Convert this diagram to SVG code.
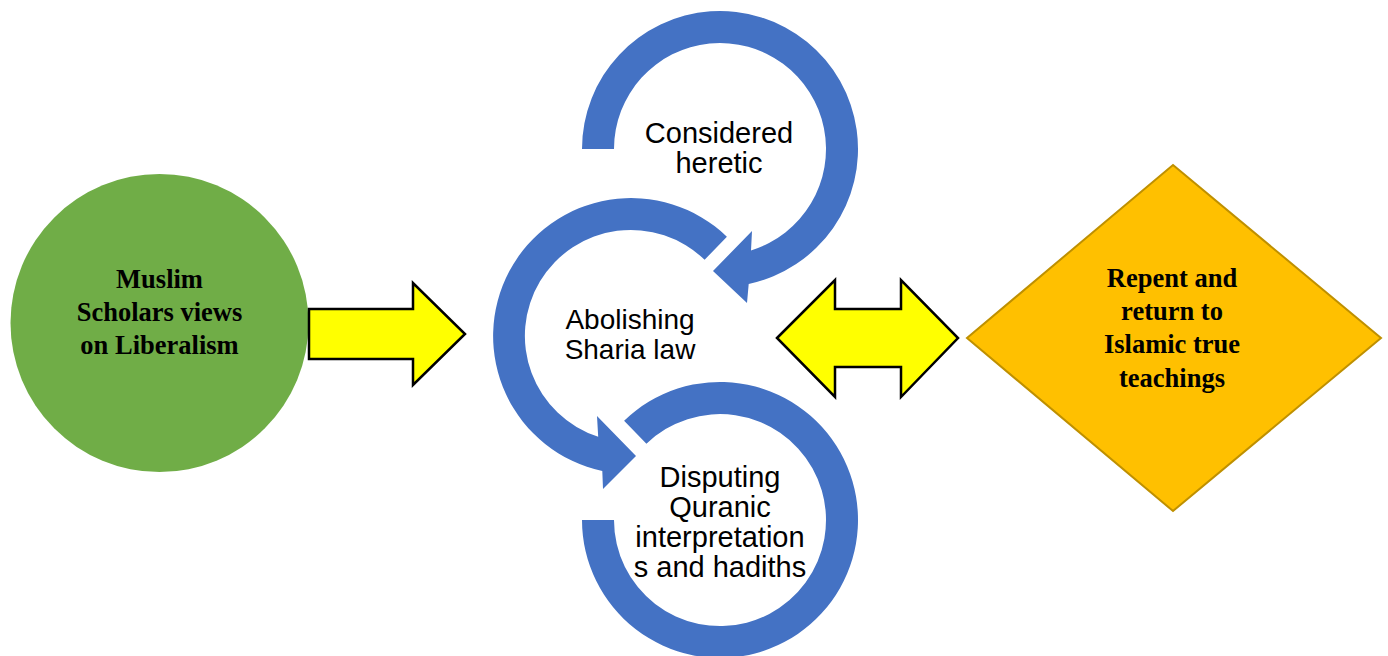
<svg xmlns="http://www.w3.org/2000/svg" width="1388" height="656" viewBox="0 0 1388 656">
<style>
.ring{fill:#4472C4;stroke:none}
.yarrow{fill:#FFFF00;stroke:#000000;stroke-width:2.5;stroke-linejoin:miter}
.sans{font-family:"Liberation Sans",Arial,sans-serif;font-size:29px;fill:#000000;text-anchor:middle}
.mid{font-size:28px}
.serifb{font-family:"Liberation Serif","Times New Roman",serif;font-size:26.5px;font-weight:bold;fill:#000000;text-anchor:middle}
</style>
<rect width="1388" height="656" fill="#FFFFFF"/>
<g id="node-muslim-scholars">
<circle cx="159.5" cy="323" r="149" fill="#70AD47"/>
<text class="serifb" x="159.5" y="288">Muslim</text>
<text class="serifb" x="159.5" y="321">Scholars views</text>
<text class="serifb" x="159.5" y="354">on Liberalism</text>
</g>
<g id="node-considered-heretic">
<path class="ring" d="M 614 149 A 106 106 0 1 1 751 250.4 L 752 231 L 713 271 L 747 303 L 748.7 284 A 138 138 0 1 0 582 149 Z"/>
<text class="sans" x="719" y="143">Considered</text>
<text class="sans" x="719" y="173">heretic</text>
</g>
<g id="node-abolishing-sharia">
<path class="ring" d="M 726.9 236.7 A 138 138 0 1 0 602.3 471 L 603 489 L 636 456 L 597 416 L 598.2 436.8 A 106 106 0 1 1 704.6 259.8 Z"/>
<text class="sans mid" x="630" y="329">Abolishing</text>
<text class="sans mid" x="630" y="359">Sharia law</text>
</g>
<g id="node-disputing-quranic">
<path class="ring" d="M 624.1 420.7 A 138 138 0 1 1 582 520 L 614 520 A 106 106 0 1 0 646.4 443.8 Z"/>
<text class="sans" x="720" y="487">Disputing</text>
<text class="sans" x="720" y="517">Quranic</text>
<text class="sans" x="720" y="547">interpretation</text>
<text class="sans" x="720" y="577">s and hadiths</text>
</g>
<g id="node-repent">
<polygon points="1173,165 1381,338 1173,511 967,338" fill="#FFC000" stroke="#BF9000" stroke-width="2"/>
<text class="serifb" x="1172" y="287">Repent and</text>
<text class="serifb" x="1172" y="320">return to</text>
<text class="serifb" x="1172" y="353">Islamic true</text>
<text class="serifb" x="1172" y="387">teachings</text>
</g>
<g id="connectors">
<polygon class="yarrow" points="309,309 413,309 413,283 465,334 413,385 413,359 309,359"/>
<polygon class="yarrow" points="777,338 835,280 835,309 901,309 901,280 958,338 901,397 901,367 835,367 835,397"/>
</g>
</svg>
